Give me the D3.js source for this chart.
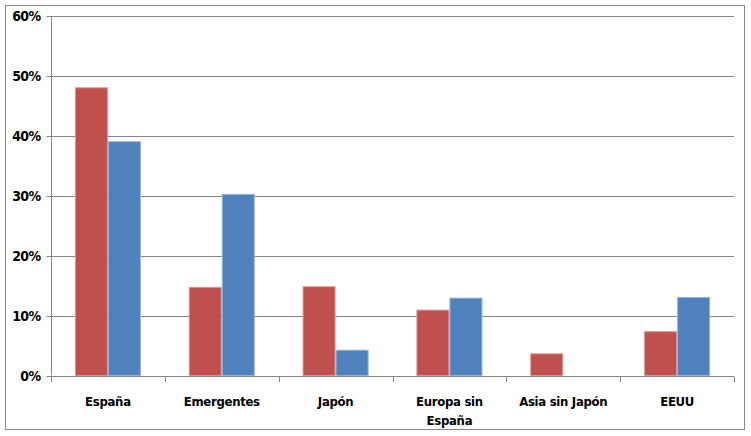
<!DOCTYPE html>
<html><head><meta charset="utf-8">
<script src="https://cdn.jsdelivr.net/npm/d3@7"></script>
<style>body{margin:0;background:#fff}svg{display:block}text{font-family:"Liberation Sans",Arial,sans-serif;font-weight:bold;fill:#000}</style>
</head><body><svg id="c" width="751" height="436"></svg>
<script>
const categories = [["España"],["Emergentes"],["Japón"],["Europa sin","España"],["Asia sin Japón"],["EEUU"]];
const series1 = [48.1, 14.8, 14.9, 11.0, 3.7, 7.4];
const series2 = [39.1, 30.3, 4.3, 13.0, 0, 13.1];
const yTicks = [0,10,20,30,40,50,60];
const colors = ["#C0504D","#4F81BD"];
const strokes = ["#D99795","#95B3D7"];

const svg = d3.select("#c");
const L=51, R=734, T=16, B=375.5;
svg.append("rect").attr("x",5.5).attr("y",5.5).attr("width",739).attr("height",424).attr("fill","#fff").attr("stroke","#888").attr("stroke-width",1);

const x = d3.scaleBand().domain(d3.range(categories.length)).range([L,R]).paddingInner(0).paddingOuter(0);
const y = d3.scaleLinear().domain([0,60]).range([B,T]);
const bw = x.bandwidth()*0.29;

svg.append("g").selectAll("line").data(yTicks.filter(d=>d>0)).join("line")
  .attr("x1",L).attr("x2",R).attr("y1",d=>Math.round(y(d))+0.5).attr("y2",d=>Math.round(y(d))+0.5)
  .attr("stroke","#868686");

const yAxis = svg.append("g").attr("transform",`translate(${L+0.5},0)`)
  .call(d3.axisLeft(y).tickValues(yTicks).tickFormat(d=>d+"%").tickSize(5).tickPadding(6));
yAxis.select(".domain").attr("stroke","#868686").attr("d",`M0,${T}V${B}`);
yAxis.selectAll(".tick line").attr("stroke","#868686");
yAxis.selectAll(".tick").attr("transform",d=>`translate(0,${Math.round(y(d))+0.5})`);
yAxis.selectAll("text").style("font-size","14px").style("font-family","'DejaVu Sans Condensed','Liberation Sans',sans-serif").attr("letter-spacing","-0.6").attr("dy","0.35em");

[series1,series2].forEach((s,i)=>{
  const pts = s.map((v,j)=>({v,j})).filter(d=>d.v>0);
  svg.append("g").selectAll("rect").data(pts).join("rect")
    .attr("x",d=>x(d.j)+x.bandwidth()/2 - bw + i*bw + 0.5)
    .attr("y",d=>y(d.v)+0.5)
    .attr("width",bw-1).attr("height",d=>B-y(d.v)-0.5)
    .attr("fill",colors[i]).attr("stroke",strokes[i]).attr("stroke-width",1);
});

const xg = svg.append("g");
xg.append("line").attr("x1",L).attr("x2",R).attr("y1",Math.round(B)+0.5).attr("y2",Math.round(B)+0.5).attr("stroke","#868686");
xg.selectAll("line.t").data(d3.range(categories.length+1)).join("line").attr("class","t")
  .attr("x1",d=>Math.round(L+d*x.bandwidth())+0.5).attr("x2",d=>Math.round(L+d*x.bandwidth())+0.5)
  .attr("y1",Math.round(B)+0.5).attr("y2",Math.round(B)+6).attr("stroke","#868686");
const lab = xg.selectAll("text").data(categories).join("text")
  .attr("text-anchor","middle").style("font-size","13px")
  .style("font-family","'DejaVu Sans Condensed','Liberation Sans',sans-serif").attr("letter-spacing","-0.3");
lab.each(function(d,i){
  d3.select(this).selectAll("tspan").data(d).join("tspan")
    .attr("x",x(i)+x.bandwidth()/2).attr("y",(t,k)=>406+k*19).text(t=>t);
});
</script></body></html>
